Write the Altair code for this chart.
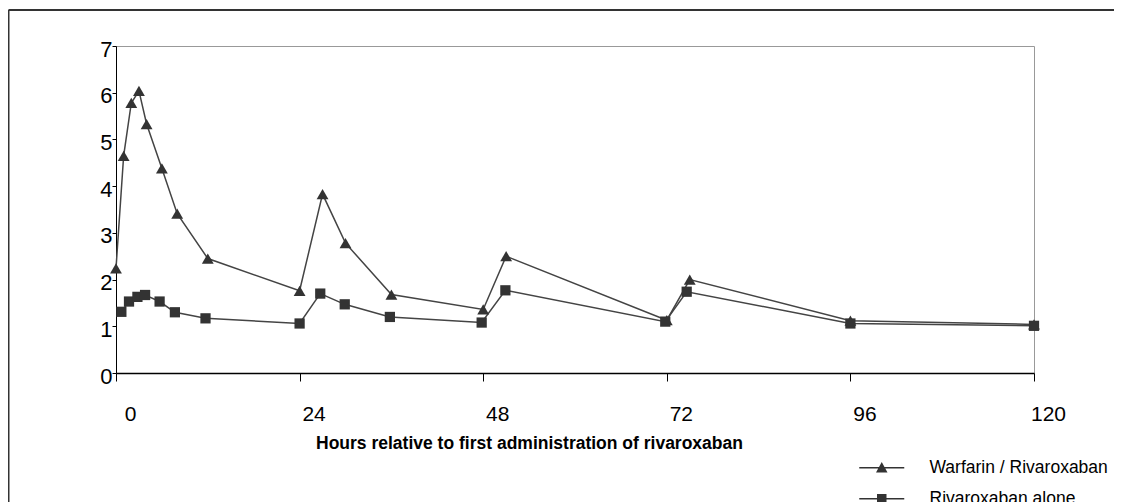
import altair as alt
import pandas as pd

# Data
wr_hours = [0, 1, 2, 3, 4, 6, 8, 12, 24, 27, 30, 36, 48, 51, 72, 75, 96, 120]
wr_ratio = [2.24, 4.65, 5.78, 6.04, 5.33, 4.38, 3.41, 2.45, 1.76, 3.83, 2.78, 1.68, 1.36, 2.50, 1.13, 2.00, 1.12, 1.04]
ra_hours = [0.7, 1.7, 2.8, 3.8, 5.7, 7.7, 11.7, 24, 26.7, 29.9, 35.8, 47.8, 50.9, 71.8, 74.6, 96, 120]
ra_ratio = [1.31, 1.53, 1.63, 1.67, 1.53, 1.30, 1.17, 1.06, 1.70, 1.47, 1.20, 1.08, 1.77, 1.10, 1.74, 1.06, 1.01]
series_names = ["Warfarin / Rivaroxaban", "Rivaroxaban alone"]
x_ticks = [0, 24, 48, 72, 96, 120]
y_ticks = [0, 1, 2, 3, 4, 5, 6, 7]

df = pd.concat([
    pd.DataFrame({"hour": wr_hours, "ratio": wr_ratio, "series": series_names[0]}),
    pd.DataFrame({"hour": ra_hours, "ratio": ra_ratio, "series": series_names[1]}),
], ignore_index=True)

FONT = "Liberation Sans"
INK = "#333333"

x_enc = alt.X("hour:Q",
              scale=alt.Scale(domain=[0, 120], nice=False, zero=False),
              axis=alt.Axis(values=x_ticks, title="Hours relative to first administration of rivaroxaban",
                            grid=False, domainColor="black", domainWidth=1.5,
                            tickColor="black", tickSize=8, tickWidth=1,
                            labelFont=FONT, labelFontSize=21, labelColor="black",
                            labelPadding=22, labelOffset=14, labelBaseline="top",
                            labelFlush=False,
                            titleFont=FONT, titleFontSize=17.5, titleFontWeight="bold",
                            titleColor="black", titleX=413, titleY=75,
                            titleAlign="center", titleBaseline="alphabetic", titleAnchor="start"))
y_enc = alt.Y("ratio:Q",
              scale=alt.Scale(domain=[0, 7], nice=False),
              axis=alt.Axis(values=y_ticks, title=None, grid=False,
                            domainColor="black", domainWidth=1,
                            tickColor="black", tickSize=4,
                            labelFont=FONT, labelFontSize=22, labelColor="black",
                            labelPadding=0, labelOffset=3, labelFlush=False))

base = alt.Chart(df)

lines = base.mark_line(color="#444444", strokeWidth=1.5).encode(
    x=x_enc, y=y_enc, detail="series:N", order="hour:Q")

tri = base.transform_filter(alt.datum.series == series_names[0]).mark_point(
    filled=True, color=INK, opacity=1, size=140, shape="triangle-up").encode(x="hour:Q", y="ratio:Q")
sq = base.transform_filter(alt.datum.series == series_names[1]).mark_point(
    filled=True, color=INK, opacity=1, size=105, shape="square").encode(x="hour:Q", y="ratio:Q")

legend_paths = [
    "M-4.5,-0.14H4.5V0.14H-4.5Z M-1.15,0.95L0,-1.15L1.15,0.95Z",
    "M-4.5,-0.14H4.5V0.14H-4.5Z M-0.95,-0.95H0.95V0.95H-0.95Z",
]
legend_layer = base.mark_point(filled=True, color=INK, opacity=0, size=100).encode(
    x="hour:Q", y="ratio:Q",
    shape=alt.Shape("series:N",
                    scale=alt.Scale(domain=series_names, range=legend_paths),
                    legend=alt.Legend(title=None, orient="none", legendX=757, legendY=413,
                                      symbolSize=100, symbolOpacity=1,
                                      symbolFillColor=INK, symbolStrokeColor=INK,
                                      symbolStrokeWidth=0.5,
                                      labelFont=FONT, labelFontSize=17.5, labelColor="black",
                                      labelOffset=39, rowPadding=12, padding=0,
                                      labelLimit=400)))

one_row = pd.DataFrame({"a": [0]})
frame_top = alt.Chart(one_row).mark_rule(color=INK, strokeWidth=2).encode(
    x=alt.value(-107.5), x2=alt.value(998), y=alt.value(-36))
frame_left = alt.Chart(one_row).mark_rule(color=INK, strokeWidth=2).encode(
    x=alt.value(-107.5), y=alt.value(-36), y2=alt.value(460))

chart = alt.layer(frame_top, frame_left, lines, tri, sq, legend_layer).properties(
    width=918, height=327,
    autosize=alt.AutoSizeParams(type="none"),
    padding={"left": 108, "top": 38, "right": 80, "bottom": 129},
    background="white",
).configure_view(stroke="#999999", strokeWidth=1)

chart.save("out.html", embed_options={"renderer": "svg", "actions": False})
